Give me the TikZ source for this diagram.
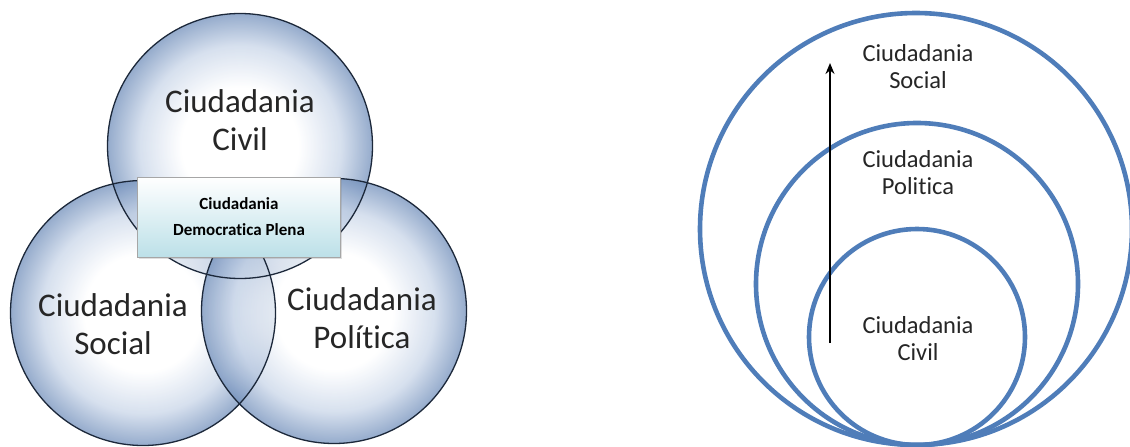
\documentclass[tikz,border=0pt]{standalone}
\usepackage{fontspec}
\setmainfont{Carlito}[Ligatures=NoCommon]
\usepackage{xcolor}
\usepackage{tikz}
\usetikzlibrary{arrows.meta, positioning, shadows}

\definecolor{rimnavy}{RGB}{28,40,58}
\definecolor{bubA}{RGB}{200,213,232}
\definecolor{bubB}{RGB}{112,142,186}
\definecolor{ringblue}{RGB}{79,125,185}
\definecolor{boxcyan}{RGB}{188,224,232}
\pgfdeclareradialshading{bubble}{\pgfpoint{0bp}{0bp}}{%
  color(0bp)=(white); color(11bp)=(white); color(19bp)=(bubA);
  color(25bp)=(bubB); color(50bp)=(bubB)}

\begin{document}
\begin{tikzpicture}[x=1pt, y=-1pt,
    bub/.style={circle, shading=bubble, fill opacity=0.74, minimum size=265pt, inner sep=0pt},
    rim/.style={draw=rimnavy, line width=1.3pt},
    big/.style={align=center, font=\fontsize{33}{38}\selectfont, text=black!85},
    core/.style={draw=gray!70, top color=white, bottom color=boxcyan, align=center,
                 font=\fontsize{17}{26}\selectfont\bfseries, minimum width=203pt,
                 minimum height=80pt, drop shadow={opacity=0.25, shadow xshift=1.5pt, shadow yshift=-1.5pt}},
    ring/.style={circle, draw=ringblue, line width=4.6pt, inner sep=0pt},
    sm/.style={align=center, font=\fontsize{24.5}{27}\selectfont, text=black!85},
    arr/.style={-{Stealth[length=11pt, width=9pt]}, line width=1.6pt, black}]
  \useasboundingbox (0,0) rectangle (1130,447);
  % three overlapping spheres
  \node[bub] (civil) at (240,146) {};
  \node[bub] (social) at (143,313) {};
  \node[bub] (polit) at (334,311) {};
  \foreach \s in {civil,social,polit}
    \draw[rim] (\s) circle[radius=132.5pt];
  \node[big] (tcivil) at (240,120) {Ciudadania\\Civil};
  \node[big] (tsocial) at (113,324) {Ciudadania\\Social};
  \node[big] (tpolit) at (362,318) {Ciudadania\\Política};
  \node[core] (plena) at (239,217) {Ciudadania\\Democratica Plena};
  % nested rings
  \node[ring, minimum size=432pt] (rsoc) at (916,229) {};
  \node[ring, minimum size=322pt] (rpol) at (917,284) {};
  \node[ring, minimum size=216pt] (rciv) at (917,337) {};
  \node[sm] (lsoc) at (918,67) {Ciudadania\\Social};
  \node[sm] (lpol) at (918,173) {Ciudadania\\Politica};
  \node[sm] (lciv) at (918,339) {Ciudadania\\Civil};
  \coordinate (lo) at (830,343);
  \coordinate (hi) at (830,63);
  \draw[arr] (lo) -- (hi);
\end{tikzpicture}
\end{document}
